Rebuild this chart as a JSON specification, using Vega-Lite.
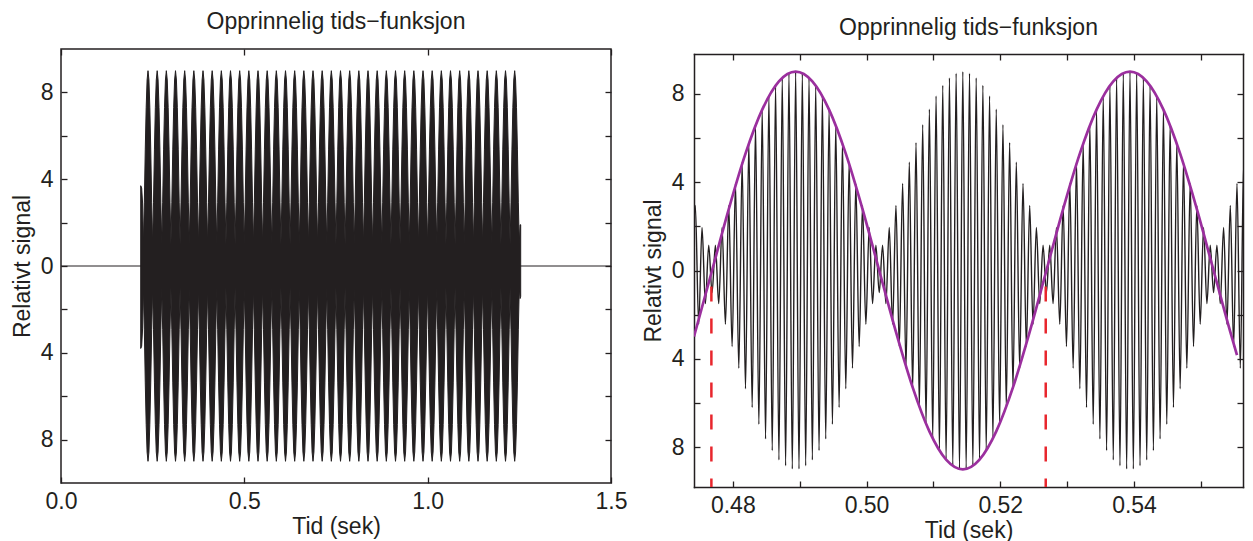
{
"$schema": "https://vega.github.io/schema/vega-lite/v6.json",
"background": "white",
"padding": {"left": 10, "top": 10, "right": 5, "bottom": 5},
"config": {
 "font": "Liberation Sans",
 "view": {"stroke": "#231f20", "strokeWidth": 1.5},
 "axis": {"grid": false, "domain": false, "tickColor": "#231f20", "tickWidth": 1.3, "tickSize": -6, "labelFontSize": 23, "labelColor": "#231f20", "titleFontSize": 23, "titleFontWeight": "normal", "titleColor": "#231f20", "labelFont": "Liberation Sans", "titleFont": "Liberation Sans", "labelFlush": false, "labelOverlap": false, "zindex": 1, "domainColor": "#231f20", "domainWidth": 1.5, "domainCap": "square"},
 "title": {"fontSize": 23, "fontWeight": "normal", "color": "#231f20", "font": "Liberation Sans", "baseline": "alphabetic", "offset": 14}
},
"datasets": {
 "zero": [{"t":0,"v":0},{"t":1.5,"v":0}],
 "env": [
{"t":0.2174,"e":3.7,"n":-3.8},{"t":0.2200,"e":3.6,"n":-3.7},{"t":0.2225,"e":2.9,"n":-2.9},{"t":0.2248,"e":1,"n":-1},
{"t":0.2273,"e":2.94,"n":-2.94},{"t":0.2298,"e":5.35,"n":-5.35},{"t":0.2323,"e":7.3,"n":-7.3},{"t":0.2348,"e":8.57,"n":-8.57},{"t":0.2373,"e":9,"n":-9},{"t":0.2398,"e":8.57,"n":-8.57},{"t":0.2423,"e":7.3,"n":-7.3},{"t":0.2448,"e":5.35,"n":-5.35},{"t":0.2473,"e":2.94,"n":-2.94},{"t":0.2498,"e":1,"n":-1},
{"t":0.2523,"e":2.94,"n":-2.94},{"t":0.2548,"e":5.35,"n":-5.35},{"t":0.2573,"e":7.3,"n":-7.3},{"t":0.2598,"e":8.57,"n":-8.57},{"t":0.2623,"e":9,"n":-9},{"t":0.2648,"e":8.57,"n":-8.57},{"t":0.2673,"e":7.3,"n":-7.3},{"t":0.2698,"e":5.35,"n":-5.35},{"t":0.2723,"e":2.94,"n":-2.94},{"t":0.2748,"e":1,"n":-1},
{"t":0.2773,"e":2.94,"n":-2.94},{"t":0.2798,"e":5.35,"n":-5.35},{"t":0.2823,"e":7.3,"n":-7.3},{"t":0.2848,"e":8.57,"n":-8.57},{"t":0.2873,"e":9,"n":-9},{"t":0.2898,"e":8.57,"n":-8.57},{"t":0.2923,"e":7.3,"n":-7.3},{"t":0.2948,"e":5.35,"n":-5.35},{"t":0.2973,"e":2.94,"n":-2.94},{"t":0.2998,"e":1,"n":-1},
{"t":0.3023,"e":2.94,"n":-2.94},{"t":0.3048,"e":5.35,"n":-5.35},{"t":0.3073,"e":7.3,"n":-7.3},{"t":0.3098,"e":8.57,"n":-8.57},{"t":0.3123,"e":9,"n":-9},{"t":0.3148,"e":8.57,"n":-8.57},{"t":0.3173,"e":7.3,"n":-7.3},{"t":0.3198,"e":5.35,"n":-5.35},{"t":0.3223,"e":2.94,"n":-2.94},{"t":0.3248,"e":1,"n":-1},
{"t":0.3273,"e":2.94,"n":-2.94},{"t":0.3298,"e":5.35,"n":-5.35},{"t":0.3323,"e":7.3,"n":-7.3},{"t":0.3348,"e":8.57,"n":-8.57},{"t":0.3373,"e":9,"n":-9},{"t":0.3398,"e":8.57,"n":-8.57},{"t":0.3423,"e":7.3,"n":-7.3},{"t":0.3448,"e":5.35,"n":-5.35},{"t":0.3473,"e":2.94,"n":-2.94},{"t":0.3498,"e":1,"n":-1},
{"t":0.3523,"e":2.94,"n":-2.94},{"t":0.3548,"e":5.35,"n":-5.35},{"t":0.3573,"e":7.3,"n":-7.3},{"t":0.3598,"e":8.57,"n":-8.57},{"t":0.3623,"e":9,"n":-9},{"t":0.3648,"e":8.57,"n":-8.57},{"t":0.3673,"e":7.3,"n":-7.3},{"t":0.3698,"e":5.35,"n":-5.35},{"t":0.3723,"e":2.94,"n":-2.94},{"t":0.3748,"e":1,"n":-1},
{"t":0.3773,"e":2.94,"n":-2.94},{"t":0.3798,"e":5.35,"n":-5.35},{"t":0.3823,"e":7.3,"n":-7.3},{"t":0.3848,"e":8.57,"n":-8.57},{"t":0.3873,"e":9,"n":-9},{"t":0.3898,"e":8.57,"n":-8.57},{"t":0.3923,"e":7.3,"n":-7.3},{"t":0.3948,"e":5.35,"n":-5.35},{"t":0.3973,"e":2.94,"n":-2.94},{"t":0.3998,"e":1,"n":-1},
{"t":0.4023,"e":2.94,"n":-2.94},{"t":0.4048,"e":5.35,"n":-5.35},{"t":0.4073,"e":7.3,"n":-7.3},{"t":0.4098,"e":8.57,"n":-8.57},{"t":0.4123,"e":9,"n":-9},{"t":0.4148,"e":8.57,"n":-8.57},{"t":0.4173,"e":7.3,"n":-7.3},{"t":0.4198,"e":5.35,"n":-5.35},{"t":0.4223,"e":2.94,"n":-2.94},{"t":0.4248,"e":1,"n":-1},
{"t":0.4273,"e":2.94,"n":-2.94},{"t":0.4298,"e":5.35,"n":-5.35},{"t":0.4323,"e":7.3,"n":-7.3},{"t":0.4348,"e":8.57,"n":-8.57},{"t":0.4373,"e":9,"n":-9},{"t":0.4398,"e":8.57,"n":-8.57},{"t":0.4423,"e":7.3,"n":-7.3},{"t":0.4448,"e":5.35,"n":-5.35},{"t":0.4473,"e":2.94,"n":-2.94},{"t":0.4498,"e":1,"n":-1},
{"t":0.4523,"e":2.94,"n":-2.94},{"t":0.4548,"e":5.35,"n":-5.35},{"t":0.4573,"e":7.3,"n":-7.3},{"t":0.4598,"e":8.57,"n":-8.57},{"t":0.4623,"e":9,"n":-9},{"t":0.4648,"e":8.57,"n":-8.57},{"t":0.4673,"e":7.3,"n":-7.3},{"t":0.4698,"e":5.35,"n":-5.35},{"t":0.4723,"e":2.94,"n":-2.94},{"t":0.4748,"e":1,"n":-1},
{"t":0.4773,"e":2.94,"n":-2.94},{"t":0.4798,"e":5.35,"n":-5.35},{"t":0.4823,"e":7.3,"n":-7.3},{"t":0.4848,"e":8.57,"n":-8.57},{"t":0.4873,"e":9,"n":-9},{"t":0.4898,"e":8.57,"n":-8.57},{"t":0.4923,"e":7.3,"n":-7.3},{"t":0.4948,"e":5.35,"n":-5.35},{"t":0.4973,"e":2.94,"n":-2.94},{"t":0.4998,"e":1,"n":-1},
{"t":0.5023,"e":2.94,"n":-2.94},{"t":0.5048,"e":5.35,"n":-5.35},{"t":0.5073,"e":7.3,"n":-7.3},{"t":0.5098,"e":8.57,"n":-8.57},{"t":0.5123,"e":9,"n":-9},{"t":0.5148,"e":8.57,"n":-8.57},{"t":0.5173,"e":7.3,"n":-7.3},{"t":0.5198,"e":5.35,"n":-5.35},{"t":0.5223,"e":2.94,"n":-2.94},{"t":0.5248,"e":1,"n":-1},
{"t":0.5273,"e":2.94,"n":-2.94},{"t":0.5298,"e":5.35,"n":-5.35},{"t":0.5323,"e":7.3,"n":-7.3},{"t":0.5348,"e":8.57,"n":-8.57},{"t":0.5373,"e":9,"n":-9},{"t":0.5398,"e":8.57,"n":-8.57},{"t":0.5423,"e":7.3,"n":-7.3},{"t":0.5448,"e":5.35,"n":-5.35},{"t":0.5473,"e":2.94,"n":-2.94},{"t":0.5498,"e":1,"n":-1},
{"t":0.5523,"e":2.94,"n":-2.94},{"t":0.5548,"e":5.35,"n":-5.35},{"t":0.5573,"e":7.3,"n":-7.3},{"t":0.5598,"e":8.57,"n":-8.57},{"t":0.5623,"e":9,"n":-9},{"t":0.5648,"e":8.57,"n":-8.57},{"t":0.5673,"e":7.3,"n":-7.3},{"t":0.5698,"e":5.35,"n":-5.35},{"t":0.5723,"e":2.94,"n":-2.94},{"t":0.5748,"e":1,"n":-1},
{"t":0.5773,"e":2.94,"n":-2.94},{"t":0.5798,"e":5.35,"n":-5.35},{"t":0.5823,"e":7.3,"n":-7.3},{"t":0.5848,"e":8.57,"n":-8.57},{"t":0.5873,"e":9,"n":-9},{"t":0.5898,"e":8.57,"n":-8.57},{"t":0.5923,"e":7.3,"n":-7.3},{"t":0.5948,"e":5.35,"n":-5.35},{"t":0.5973,"e":2.94,"n":-2.94},{"t":0.5998,"e":1,"n":-1},
{"t":0.6023,"e":2.94,"n":-2.94},{"t":0.6048,"e":5.35,"n":-5.35},{"t":0.6073,"e":7.3,"n":-7.3},{"t":0.6098,"e":8.57,"n":-8.57},{"t":0.6123,"e":9,"n":-9},{"t":0.6148,"e":8.57,"n":-8.57},{"t":0.6173,"e":7.3,"n":-7.3},{"t":0.6198,"e":5.35,"n":-5.35},{"t":0.6223,"e":2.94,"n":-2.94},{"t":0.6248,"e":1,"n":-1},
{"t":0.6273,"e":2.94,"n":-2.94},{"t":0.6298,"e":5.35,"n":-5.35},{"t":0.6323,"e":7.3,"n":-7.3},{"t":0.6348,"e":8.57,"n":-8.57},{"t":0.6373,"e":9,"n":-9},{"t":0.6398,"e":8.57,"n":-8.57},{"t":0.6423,"e":7.3,"n":-7.3},{"t":0.6448,"e":5.35,"n":-5.35},{"t":0.6473,"e":2.94,"n":-2.94},{"t":0.6498,"e":1,"n":-1},
{"t":0.6523,"e":2.94,"n":-2.94},{"t":0.6548,"e":5.35,"n":-5.35},{"t":0.6573,"e":7.3,"n":-7.3},{"t":0.6598,"e":8.57,"n":-8.57},{"t":0.6623,"e":9,"n":-9},{"t":0.6648,"e":8.57,"n":-8.57},{"t":0.6673,"e":7.3,"n":-7.3},{"t":0.6698,"e":5.35,"n":-5.35},{"t":0.6723,"e":2.94,"n":-2.94},{"t":0.6748,"e":1,"n":-1},
{"t":0.6773,"e":2.94,"n":-2.94},{"t":0.6798,"e":5.35,"n":-5.35},{"t":0.6823,"e":7.3,"n":-7.3},{"t":0.6848,"e":8.57,"n":-8.57},{"t":0.6873,"e":9,"n":-9},{"t":0.6898,"e":8.57,"n":-8.57},{"t":0.6923,"e":7.3,"n":-7.3},{"t":0.6948,"e":5.35,"n":-5.35},{"t":0.6973,"e":2.94,"n":-2.94},{"t":0.6998,"e":1,"n":-1},
{"t":0.7023,"e":2.94,"n":-2.94},{"t":0.7048,"e":5.35,"n":-5.35},{"t":0.7073,"e":7.3,"n":-7.3},{"t":0.7098,"e":8.57,"n":-8.57},{"t":0.7123,"e":9,"n":-9},{"t":0.7148,"e":8.57,"n":-8.57},{"t":0.7173,"e":7.3,"n":-7.3},{"t":0.7198,"e":5.35,"n":-5.35},{"t":0.7223,"e":2.94,"n":-2.94},{"t":0.7248,"e":1,"n":-1},
{"t":0.7273,"e":2.94,"n":-2.94},{"t":0.7298,"e":5.35,"n":-5.35},{"t":0.7323,"e":7.3,"n":-7.3},{"t":0.7348,"e":8.57,"n":-8.57},{"t":0.7373,"e":9,"n":-9},{"t":0.7398,"e":8.57,"n":-8.57},{"t":0.7423,"e":7.3,"n":-7.3},{"t":0.7448,"e":5.35,"n":-5.35},{"t":0.7473,"e":2.94,"n":-2.94},{"t":0.7498,"e":1,"n":-1},
{"t":0.7523,"e":2.94,"n":-2.94},{"t":0.7548,"e":5.35,"n":-5.35},{"t":0.7573,"e":7.3,"n":-7.3},{"t":0.7598,"e":8.57,"n":-8.57},{"t":0.7623,"e":9,"n":-9},{"t":0.7648,"e":8.57,"n":-8.57},{"t":0.7673,"e":7.3,"n":-7.3},{"t":0.7698,"e":5.35,"n":-5.35},{"t":0.7723,"e":2.94,"n":-2.94},{"t":0.7748,"e":1,"n":-1},
{"t":0.7773,"e":2.94,"n":-2.94},{"t":0.7798,"e":5.35,"n":-5.35},{"t":0.7823,"e":7.3,"n":-7.3},{"t":0.7848,"e":8.57,"n":-8.57},{"t":0.7873,"e":9,"n":-9},{"t":0.7898,"e":8.57,"n":-8.57},{"t":0.7923,"e":7.3,"n":-7.3},{"t":0.7948,"e":5.35,"n":-5.35},{"t":0.7973,"e":2.94,"n":-2.94},{"t":0.7998,"e":1,"n":-1},
{"t":0.8023,"e":2.94,"n":-2.94},{"t":0.8048,"e":5.35,"n":-5.35},{"t":0.8073,"e":7.3,"n":-7.3},{"t":0.8098,"e":8.57,"n":-8.57},{"t":0.8123,"e":9,"n":-9},{"t":0.8148,"e":8.57,"n":-8.57},{"t":0.8173,"e":7.3,"n":-7.3},{"t":0.8198,"e":5.35,"n":-5.35},{"t":0.8223,"e":2.94,"n":-2.94},{"t":0.8248,"e":1,"n":-1},
{"t":0.8273,"e":2.94,"n":-2.94},{"t":0.8298,"e":5.35,"n":-5.35},{"t":0.8323,"e":7.3,"n":-7.3},{"t":0.8348,"e":8.57,"n":-8.57},{"t":0.8373,"e":9,"n":-9},{"t":0.8398,"e":8.57,"n":-8.57},{"t":0.8423,"e":7.3,"n":-7.3},{"t":0.8448,"e":5.35,"n":-5.35},{"t":0.8473,"e":2.94,"n":-2.94},{"t":0.8498,"e":1,"n":-1},
{"t":0.8523,"e":2.94,"n":-2.94},{"t":0.8548,"e":5.35,"n":-5.35},{"t":0.8573,"e":7.3,"n":-7.3},{"t":0.8598,"e":8.57,"n":-8.57},{"t":0.8623,"e":9,"n":-9},{"t":0.8648,"e":8.57,"n":-8.57},{"t":0.8673,"e":7.3,"n":-7.3},{"t":0.8698,"e":5.35,"n":-5.35},{"t":0.8723,"e":2.94,"n":-2.94},{"t":0.8748,"e":1,"n":-1},
{"t":0.8773,"e":2.94,"n":-2.94},{"t":0.8798,"e":5.35,"n":-5.35},{"t":0.8823,"e":7.3,"n":-7.3},{"t":0.8848,"e":8.57,"n":-8.57},{"t":0.8873,"e":9,"n":-9},{"t":0.8898,"e":8.57,"n":-8.57},{"t":0.8923,"e":7.3,"n":-7.3},{"t":0.8948,"e":5.35,"n":-5.35},{"t":0.8973,"e":2.94,"n":-2.94},{"t":0.8998,"e":1,"n":-1},
{"t":0.9023,"e":2.94,"n":-2.94},{"t":0.9048,"e":5.35,"n":-5.35},{"t":0.9073,"e":7.3,"n":-7.3},{"t":0.9098,"e":8.57,"n":-8.57},{"t":0.9123,"e":9,"n":-9},{"t":0.9148,"e":8.57,"n":-8.57},{"t":0.9173,"e":7.3,"n":-7.3},{"t":0.9198,"e":5.35,"n":-5.35},{"t":0.9223,"e":2.94,"n":-2.94},{"t":0.9248,"e":1,"n":-1},
{"t":0.9273,"e":2.94,"n":-2.94},{"t":0.9298,"e":5.35,"n":-5.35},{"t":0.9323,"e":7.3,"n":-7.3},{"t":0.9348,"e":8.57,"n":-8.57},{"t":0.9373,"e":9,"n":-9},{"t":0.9398,"e":8.57,"n":-8.57},{"t":0.9423,"e":7.3,"n":-7.3},{"t":0.9448,"e":5.35,"n":-5.35},{"t":0.9473,"e":2.94,"n":-2.94},{"t":0.9498,"e":1,"n":-1},
{"t":0.9523,"e":2.94,"n":-2.94},{"t":0.9548,"e":5.35,"n":-5.35},{"t":0.9573,"e":7.3,"n":-7.3},{"t":0.9598,"e":8.57,"n":-8.57},{"t":0.9623,"e":9,"n":-9},{"t":0.9648,"e":8.57,"n":-8.57},{"t":0.9673,"e":7.3,"n":-7.3},{"t":0.9698,"e":5.35,"n":-5.35},{"t":0.9723,"e":2.94,"n":-2.94},{"t":0.9748,"e":1,"n":-1},
{"t":0.9773,"e":2.94,"n":-2.94},{"t":0.9798,"e":5.35,"n":-5.35},{"t":0.9823,"e":7.3,"n":-7.3},{"t":0.9848,"e":8.57,"n":-8.57},{"t":0.9873,"e":9,"n":-9},{"t":0.9898,"e":8.57,"n":-8.57},{"t":0.9923,"e":7.3,"n":-7.3},{"t":0.9948,"e":5.35,"n":-5.35},{"t":0.9973,"e":2.94,"n":-2.94},{"t":0.9998,"e":1,"n":-1},
{"t":1.0023,"e":2.94,"n":-2.94},{"t":1.0048,"e":5.35,"n":-5.35},{"t":1.0073,"e":7.3,"n":-7.3},{"t":1.0098,"e":8.57,"n":-8.57},{"t":1.0123,"e":9,"n":-9},{"t":1.0148,"e":8.57,"n":-8.57},{"t":1.0173,"e":7.3,"n":-7.3},{"t":1.0198,"e":5.35,"n":-5.35},{"t":1.0223,"e":2.94,"n":-2.94},{"t":1.0248,"e":1,"n":-1},
{"t":1.0273,"e":2.94,"n":-2.94},{"t":1.0298,"e":5.35,"n":-5.35},{"t":1.0323,"e":7.3,"n":-7.3},{"t":1.0348,"e":8.57,"n":-8.57},{"t":1.0373,"e":9,"n":-9},{"t":1.0398,"e":8.57,"n":-8.57},{"t":1.0423,"e":7.3,"n":-7.3},{"t":1.0448,"e":5.35,"n":-5.35},{"t":1.0473,"e":2.94,"n":-2.94},{"t":1.0498,"e":1,"n":-1},
{"t":1.0523,"e":2.94,"n":-2.94},{"t":1.0548,"e":5.35,"n":-5.35},{"t":1.0573,"e":7.3,"n":-7.3},{"t":1.0598,"e":8.57,"n":-8.57},{"t":1.0623,"e":9,"n":-9},{"t":1.0648,"e":8.57,"n":-8.57},{"t":1.0673,"e":7.3,"n":-7.3},{"t":1.0698,"e":5.35,"n":-5.35},{"t":1.0723,"e":2.94,"n":-2.94},{"t":1.0748,"e":1,"n":-1},
{"t":1.0773,"e":2.94,"n":-2.94},{"t":1.0798,"e":5.35,"n":-5.35},{"t":1.0823,"e":7.3,"n":-7.3},{"t":1.0848,"e":8.57,"n":-8.57},{"t":1.0873,"e":9,"n":-9},{"t":1.0898,"e":8.57,"n":-8.57},{"t":1.0923,"e":7.3,"n":-7.3},{"t":1.0948,"e":5.35,"n":-5.35},{"t":1.0973,"e":2.94,"n":-2.94},{"t":1.0998,"e":1,"n":-1},
{"t":1.1023,"e":2.94,"n":-2.94},{"t":1.1048,"e":5.35,"n":-5.35},{"t":1.1073,"e":7.3,"n":-7.3},{"t":1.1098,"e":8.57,"n":-8.57},{"t":1.1123,"e":9,"n":-9},{"t":1.1148,"e":8.57,"n":-8.57},{"t":1.1173,"e":7.3,"n":-7.3},{"t":1.1198,"e":5.35,"n":-5.35},{"t":1.1223,"e":2.94,"n":-2.94},{"t":1.1248,"e":1,"n":-1},
{"t":1.1273,"e":2.94,"n":-2.94},{"t":1.1298,"e":5.35,"n":-5.35},{"t":1.1323,"e":7.3,"n":-7.3},{"t":1.1348,"e":8.57,"n":-8.57},{"t":1.1373,"e":9,"n":-9},{"t":1.1398,"e":8.57,"n":-8.57},{"t":1.1423,"e":7.3,"n":-7.3},{"t":1.1448,"e":5.35,"n":-5.35},{"t":1.1473,"e":2.94,"n":-2.94},{"t":1.1498,"e":1,"n":-1},
{"t":1.1523,"e":2.94,"n":-2.94},{"t":1.1548,"e":5.35,"n":-5.35},{"t":1.1573,"e":7.3,"n":-7.3},{"t":1.1598,"e":8.57,"n":-8.57},{"t":1.1623,"e":9,"n":-9},{"t":1.1648,"e":8.57,"n":-8.57},{"t":1.1673,"e":7.3,"n":-7.3},{"t":1.1698,"e":5.35,"n":-5.35},{"t":1.1723,"e":2.94,"n":-2.94},{"t":1.1748,"e":1,"n":-1},
{"t":1.1773,"e":2.94,"n":-2.94},{"t":1.1798,"e":5.35,"n":-5.35},{"t":1.1823,"e":7.3,"n":-7.3},{"t":1.1848,"e":8.57,"n":-8.57},{"t":1.1873,"e":9,"n":-9},{"t":1.1898,"e":8.57,"n":-8.57},{"t":1.1923,"e":7.3,"n":-7.3},{"t":1.1948,"e":5.35,"n":-5.35},{"t":1.1973,"e":2.94,"n":-2.94},{"t":1.1998,"e":1,"n":-1},
{"t":1.2023,"e":2.94,"n":-2.94},{"t":1.2048,"e":5.35,"n":-5.35},{"t":1.2073,"e":7.3,"n":-7.3},{"t":1.2098,"e":8.57,"n":-8.57},{"t":1.2123,"e":9,"n":-9},{"t":1.2148,"e":8.57,"n":-8.57},{"t":1.2173,"e":7.3,"n":-7.3},{"t":1.2198,"e":5.35,"n":-5.35},{"t":1.2223,"e":2.94,"n":-2.94},{"t":1.2248,"e":1,"n":-1},
{"t":1.2273,"e":2.94,"n":-2.94},{"t":1.2298,"e":5.35,"n":-5.35},{"t":1.2323,"e":7.3,"n":-7.3},{"t":1.2348,"e":8.57,"n":-8.57},{"t":1.2373,"e":9,"n":-9},{"t":1.2398,"e":8.57,"n":-8.57},{"t":1.2423,"e":7.3,"n":-7.3},{"t":1.2448,"e":5.35,"n":-5.35},{"t":1.2473,"e":2.94,"n":-2.94},{"t":1.2498,"e":1,"n":-1},
{"t":1.2520,"e":1.9,"n":-1.5},{"t":1.2537,"e":1.9,"n":-1.4}
 ],
 "carrier": [
{"t":0.4739,"v":-3.44},{"t":0.4744,"v":2.94},{"t":0.4749,"v":-2.44},{"t":0.4754,"v":1.95},{"t":0.4759,"v":-1.5},{"t":0.4764,"v":1.15},{"t":0.4769,"v":-1},{"t":0.4774,"v":1.15},{"t":0.4779,"v":-1.5},{"t":0.4784,"v":1.95},{"t":0.4789,"v":-2.44},{"t":0.4794,"v":2.94},{"t":0.4799,"v":-3.44},{"t":0.4804,"v":3.94},{"t":0.4809,"v":-4.42},{"t":0.4814,"v":4.9},{"t":0.4819,"v":-5.35},{"t":0.4824,"v":5.79},{"t":0.4829,"v":-6.2},{"t":0.4834,"v":6.6},{"t":0.4839,"v":-6.96},{"t":0.4844,"v":7.3},{"t":0.4849,"v":-7.62},{"t":0.4854,"v":7.9},{"t":0.4859,"v":-8.15},{"t":0.4864,"v":8.38},{"t":0.4869,"v":-8.57},{"t":0.4874,"v":8.72},{"t":0.4879,"v":-8.84},{"t":0.4884,"v":8.93},{"t":0.4889,"v":-8.98},
{"t":0.4894,"v":9},{"t":0.4899,"v":-8.98},{"t":0.4904,"v":8.93},{"t":0.4909,"v":-8.84},{"t":0.4914,"v":8.72},{"t":0.4919,"v":-8.57},{"t":0.4924,"v":8.38},{"t":0.4929,"v":-8.15},{"t":0.4934,"v":7.9},{"t":0.4939,"v":-7.62},{"t":0.4944,"v":7.3},{"t":0.4949,"v":-6.96},{"t":0.4954,"v":6.6},{"t":0.4959,"v":-6.2},{"t":0.4964,"v":5.79},{"t":0.4969,"v":-5.35},{"t":0.4974,"v":4.9},{"t":0.4979,"v":-4.42},{"t":0.4984,"v":3.94},{"t":0.4989,"v":-3.44},{"t":0.4994,"v":2.94},{"t":0.4999,"v":-2.44},{"t":0.5004,"v":1.95},{"t":0.5009,"v":-1.5},{"t":0.5014,"v":1.15},{"t":0.5019,"v":-1},{"t":0.5024,"v":1.15},{"t":0.5029,"v":-1.5},{"t":0.5034,"v":1.95},{"t":0.5039,"v":-2.44},{"t":0.5044,"v":2.94},{"t":0.5049,"v":-3.44},{"t":0.5054,"v":3.94},{"t":0.5059,"v":-4.42},{"t":0.5064,"v":4.9},{"t":0.5069,"v":-5.35},{"t":0.5074,"v":5.79},{"t":0.5079,"v":-6.2},{"t":0.5084,"v":6.6},{"t":0.5089,"v":-6.96},{"t":0.5094,"v":7.3},{"t":0.5099,"v":-7.62},{"t":0.5104,"v":7.9},{"t":0.5109,"v":-8.15},{"t":0.5114,"v":8.38},{"t":0.5119,"v":-8.57},{"t":0.5124,"v":8.72},{"t":0.5129,"v":-8.84},{"t":0.5134,"v":8.93},{"t":0.5139,"v":-8.98},
{"t":0.5144,"v":9},{"t":0.5149,"v":-8.98},{"t":0.5154,"v":8.93},{"t":0.5159,"v":-8.84},{"t":0.5164,"v":8.72},{"t":0.5169,"v":-8.57},{"t":0.5174,"v":8.38},{"t":0.5179,"v":-8.15},{"t":0.5184,"v":7.9},{"t":0.5189,"v":-7.62},{"t":0.5194,"v":7.3},{"t":0.5199,"v":-6.96},{"t":0.5204,"v":6.6},{"t":0.5209,"v":-6.2},{"t":0.5214,"v":5.79},{"t":0.5219,"v":-5.35},{"t":0.5224,"v":4.9},{"t":0.5229,"v":-4.42},{"t":0.5234,"v":3.94},{"t":0.5239,"v":-3.44},{"t":0.5244,"v":2.94},{"t":0.5249,"v":-2.44},{"t":0.5254,"v":1.95},{"t":0.5259,"v":-1.5},{"t":0.5264,"v":1.15},{"t":0.5269,"v":-1},{"t":0.5274,"v":1.15},{"t":0.5279,"v":-1.5},{"t":0.5284,"v":1.95},{"t":0.5289,"v":-2.44},{"t":0.5294,"v":2.94},{"t":0.5299,"v":-3.44},{"t":0.5304,"v":3.94},{"t":0.5309,"v":-4.42},{"t":0.5314,"v":4.9},{"t":0.5319,"v":-5.35},{"t":0.5324,"v":5.79},{"t":0.5329,"v":-6.2},{"t":0.5334,"v":6.6},{"t":0.5339,"v":-6.96},{"t":0.5344,"v":7.3},{"t":0.5349,"v":-7.62},{"t":0.5354,"v":7.9},{"t":0.5359,"v":-8.15},{"t":0.5364,"v":8.38},{"t":0.5369,"v":-8.57},{"t":0.5374,"v":8.72},{"t":0.5379,"v":-8.84},{"t":0.5384,"v":8.93},{"t":0.5389,"v":-8.98},
{"t":0.5394,"v":9},{"t":0.5399,"v":-8.98},{"t":0.5404,"v":8.93},{"t":0.5409,"v":-8.84},{"t":0.5414,"v":8.72},{"t":0.5419,"v":-8.57},{"t":0.5424,"v":8.38},{"t":0.5429,"v":-8.15},{"t":0.5434,"v":7.9},{"t":0.5439,"v":-7.62},{"t":0.5444,"v":7.3},{"t":0.5449,"v":-6.96},{"t":0.5454,"v":6.6},{"t":0.5459,"v":-6.2},{"t":0.5464,"v":5.79},{"t":0.5469,"v":-5.35},{"t":0.5474,"v":4.9},{"t":0.5479,"v":-4.42},{"t":0.5484,"v":3.94},{"t":0.5489,"v":-3.44},{"t":0.5494,"v":2.94},{"t":0.5499,"v":-2.44},{"t":0.5504,"v":1.95},{"t":0.5509,"v":-1.5},{"t":0.5514,"v":1.15},{"t":0.5519,"v":-1},{"t":0.5524,"v":1.15},{"t":0.5529,"v":-1.5},{"t":0.5534,"v":1.95},{"t":0.5539,"v":-2.44},{"t":0.5544,"v":2.94},{"t":0.5549,"v":-3.44},{"t":0.5554,"v":3.94},{"t":0.5559,"v":-4.42},{"t":0.5564,"v":4.9},{"t":0.5569,"v":-5.35},{"t":0.5574,"v":5.79}
 ],
 "purple": [
{"t":0.4742,"v":-2.99},{"t":0.4769,"v":0},{"t":0.4794,"v":2.781},{"t":0.4819,"v":5.29},{"t":0.4844,"v":7.281},{"t":0.4869,"v":8.56},{"t":0.4894,"v":9},{"t":0.4919,"v":8.56},{"t":0.4944,"v":7.281},{"t":0.4969,"v":5.29},{"t":0.4994,"v":2.781},{"t":0.5019,"v":0},{"t":0.5044,"v":-2.781},{"t":0.5069,"v":-5.29},{"t":0.5094,"v":-7.281},{"t":0.5119,"v":-8.56},{"t":0.5144,"v":-9},{"t":0.5169,"v":-8.56},{"t":0.5194,"v":-7.281},{"t":0.5219,"v":-5.29},{"t":0.5244,"v":-2.781},{"t":0.5269,"v":0},{"t":0.5294,"v":2.781},{"t":0.5319,"v":5.29},{"t":0.5344,"v":7.281},{"t":0.5369,"v":8.56},{"t":0.5394,"v":9},{"t":0.5419,"v":8.56},{"t":0.5444,"v":7.281},{"t":0.5469,"v":5.29},{"t":0.5494,"v":2.781},{"t":0.5519,"v":0},{"t":0.5544,"v":-2.781},{"t":0.5554,"v":-3.83}
 ],
 "marks": [{"t":0.4768},{"t":0.5268}]
},
"spacing": 14,
"hconcat": [
 {
  "width": 550, "height": 434,
  "title": {"text": "Opprinnelig tids−funksjon"},
  "layer": [
   {"data": {"name": "zero"}, "mark": {"type": "line", "color": "#231f20", "strokeWidth": 1},
    "encoding": {
     "x": {"field": "t", "type": "quantitative", "scale": {"domain": [0, 1.5], "nice": false, "zero": false}, "axis": {"orient": "top", "labels": false, "title": null, "values": [0, 0.5, 1, 1.5]}},
     "y": {"field": "v", "type": "quantitative", "scale": {"domain": [-10, 10], "nice": false}, "axis": {"orient": "right", "labels": false, "title": null, "values": [-8, -6, -4, -2, 0, 2, 4, 6, 8]}}
    }},
   {"data": {"name": "env"}, "mark": {"type": "area", "fill": "#231f20", "stroke": "#231f20", "strokeWidth": 1, "strokeJoin": "round"},
    "encoding": {
     "x": {"field": "t", "type": "quantitative", "axis": {"orient": "bottom", "title": "Tid (sek)", "values": [0, 0.5, 1, 1.5], "format": ".1f", "labelPadding": 13, "titlePadding": 2}},
     "y": {"field": "e", "type": "quantitative", "axis": {"orient": "left", "title": "Relativt signal", "values": [-8, -6, -4, -2, 0, 2, 4, 6, 8], "labelExpr": "datum.value % 4 === 0 ? format(abs(datum.value), 'd') : ''", "labelPadding": 14, "titlePadding": 6}},
     "y2": {"field": "n"}
    }}
  ]
 },
 {
  "width": 549, "height": 438,
  "view": {"stroke": null},
  "title": {"text": "Opprinnelig tids−funksjon", "offset": 9},
  "layer": [
   {"data": {"name": "carrier"}, "mark": {"type": "line", "color": "#231f20", "strokeWidth": 1.4, "interpolate": "monotone", "clip": true},
    "encoding": {
     "x": {"field": "t", "type": "quantitative", "scale": {"domain": [0.4742, 0.5563], "nice": false, "zero": false}, "axis": {"orient": "bottom", "domain": true, "title": "Tid (sek)", "values": [0.48, 0.49, 0.5, 0.51, 0.52, 0.53, 0.54, 0.55], "labelExpr": "round(datum.value * 100) % 2 === 0 ? format(datum.value, '.2f') : ''", "labelPadding": 13, "titlePadding": 2}},
     "y": {"field": "v", "type": "quantitative", "scale": {"domain": [-9.8, 9.8], "nice": false, "range": [438, 5]}, "axis": {"orient": "left", "domain": true, "title": "Relativt signal", "values": [-8, -6, -4, -2, 0, 2, 4, 6, 8], "labelExpr": "datum.value % 4 === 0 ? format(abs(datum.value), 'd') : ''", "labelPadding": 16, "titlePadding": 6}}
    }},
   {"data": {"name": "purple"}, "mark": {"type": "line", "color": "#9b2f9e", "strokeWidth": 2.7, "interpolate": "monotone", "clip": true},
    "encoding": {
     "x": {"field": "t", "type": "quantitative", "axis": {"orient": "top", "domain": true, "offset": -5, "labels": false, "title": null, "values": [0.48, 0.49, 0.5, 0.51, 0.52, 0.53, 0.54, 0.55]}},
     "y": {"field": "v", "type": "quantitative", "axis": {"orient": "right", "domain": true, "labels": false, "title": null, "values": [-8, -6, -4, -2, 0, 2, 4, 6, 8]}}
    }},
   {"data": {"name": "marks"}, "mark": {"type": "rule", "color": "#e8262d", "strokeWidth": 2.5, "strokeDash": [15, 17], "strokeDashOffset": 16},
    "encoding": {
     "x": {"field": "t", "type": "quantitative", "axis": null},
     "y": {"datum": 0, "axis": null},
     "y2": {"datum": -9.8}
    }}
  ]
 }
]
}
